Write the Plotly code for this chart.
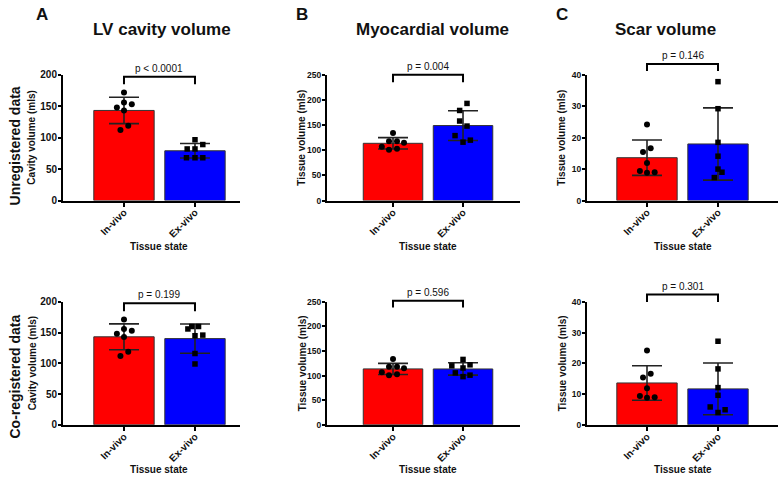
import numpy as np
import plotly.graph_objects as go

# ---------------- data ----------------
categories = ["In-vivo", "Ex-vivo"]

lv_invivo = [171.6, 148, 156, 153, 143, 112, 119]
lv_exvivo_unreg = [96.6, 82, 82, 89, 68, 68, 68]
lv_exvivo_coreg = [156, 160, 160, 145, 146, 116, 99]

myo_invivo = [134, 118, 118, 115, 107, 101, 103]
myo_exvivo_unreg = [193, 179, 158, 148, 129, 116, 120]
myo_exvivo_coreg = [133, 120, 122, 115.6, 105.6, 98, 101]

scar_invivo = [24.2, 15.4, 16.6, 11.9, 9.4, 8.8, 9.0]
scar_exvivo_unreg = [37.8, 29.2, 18.5, 14.1, 10.0, 9.0, 7.3]
scar_exvivo_coreg = [27.2, 18.2, 12.1, 9.6, 5.8, 4.0, 4.9]

p_labels = ["p < 0.0001", "p = 0.004", "p = 0.146",
            "p = 0.199", "p = 0.596", "p = 0.301"]

panel_titles = ["LV cavity volume", "Myocardial volume", "Scar volume"]
panel_letters = ["A", "B", "C"]
row_labels = ["Unregistered data", "Co-registered data"]
y_titles = ["Cavity volume (mls)", "Tissue volume (mls)", "Tissue volume (mls)"]
y_ticks = [[0, 50, 100, 150, 200], [0, 50, 100, 150, 200, 250], [0, 10, 20, 30, 40]]

# ---------------- layout / style constants ----------------
W, H = 778, 481
RED, BLUE = "#FF0000", "#0000FF"
FONT = "Liberation Sans, Arial, Helvetica, sans-serif"
YTICK_SIZE = [10, 8.5, 8.5]
YTITLE_SIZE = [10, 10, 10]

# horizontal spread of scatter points (category units)
JIT_IN_LV = [0, -0.10, 0, 0.11, 0, -0.05, 0.06]
JIT_IN_MYO = [0, -0.057, 0.057, 0.157, -0.16, -0.057, 0.057]
JIT_IN_SCAR = [0, -0.056, 0.052, 0, -0.10, 0, 0.108]
jitter = {
    (0, 0): (JIT_IN_LV, [0, -0.11, 0, 0.11, -0.12, 0, 0.11]),
    (0, 1): (JIT_IN_MYO, [0.057, -0.048, -0.048, 0.057, -0.114, 0, 0.105]),
    (0, 2): (JIT_IN_SCAR, [0, 0, 0, 0, 0, 0.056, -0.052]),
    (1, 0): (JIT_IN_LV, [-0.1, -0.045, 0.05, 0, 0.11, 0, 0]),
    (1, 1): (JIT_IN_MYO, [0, -0.16, 0.10, 0, -0.11, 0, 0.10]),
    (1, 2): (JIT_IN_SCAR, [0, 0, 0, 0, -0.11, 0, 0.10]),
}
data = {
    (0, 0): (lv_invivo, lv_exvivo_unreg),
    (0, 1): (myo_invivo, myo_exvivo_unreg),
    (0, 2): (scar_invivo, scar_exvivo_unreg),
    (1, 0): (lv_invivo, lv_exvivo_coreg),
    (1, 1): (myo_invivo, myo_exvivo_coreg),
    (1, 2): (scar_invivo, scar_exvivo_coreg),
}

# pixel geometry
col_px = [(63, 240), (327, 520), (587, 778)]          # x-axis extents
col_ranges = [(-0.859, 1.634), (-0.943, 1.814), (-0.845, 1.845)]
row_px = [(199.5, 70.5), (429.5, 303.5)]               # (y=0, y=max) pixel rows
ytitle_px = [32, 302, 562]
# bracket (top, leg bottom) as y-domain fraction
brackets = {
    (0, 0): (0.985, 0.925), (0, 1): (1.0, 0.94), (0, 2): (1.085, 1.03),
    (1, 0): (0.99, 0.925), (1, 1): (1.01, 0.955), (1, 2): (1.06, 1.0),
}

def px2x(px):
    return px / W

def px2y(py):
    return 1 - py / H

fig = go.Figure()
layout = dict(
    width=W, height=H, margin=dict(l=0, r=0, t=0, b=0),
    paper_bgcolor="white", plot_bgcolor="white", showlegend=False,
    font=dict(family=FONT, color="#111"),
)
annotations = []
shapes = []

idx = 0
for r in range(2):
    for c in range(3):
        idx += 1
        xa = "x" if idx == 1 else f"x{idx}"
        ya = "y" if idx == 1 else f"y{idx}"
        xkey = "xaxis" if idx == 1 else f"xaxis{idx}"
        ykey = "yaxis" if idx == 1 else f"yaxis{idx}"
        vin, vex = data[(r, c)]
        jin, jex = jitter[(r, c)]
        means = [float(np.mean(vin)), float(np.mean(vex))]
        sds = [float(np.std(vin, ddof=1)), float(np.std(vex, ddof=1))]

        fig.add_trace(go.Bar(
            x=[0, 1], y=means, width=0.85,
            marker=dict(color=[RED, BLUE], line=dict(color="#333", width=1)),
            error_y=dict(type="data", array=sds, visible=True,
                         color="#222", thickness=1.6, width=15),
            xaxis=xa, yaxis=ya, hoverinfo="skip",
        ))
        fig.add_trace(go.Scatter(
            x=[0 + j for j in jin], y=vin, mode="markers",
            marker=dict(symbol="circle", size=6, color="black"),
            xaxis=xa, yaxis=ya, cliponaxis=False, hoverinfo="skip",
        ))
        fig.add_trace(go.Scatter(
            x=[1 + j for j in jex], y=vex, mode="markers",
            marker=dict(symbol="square", size=5.5, color="black"),
            xaxis=xa, yaxis=ya, cliponaxis=False, hoverinfo="skip",
        ))

        x0p, x1p = col_px[c]
        y0p, y1p = row_px[r]
        ticks = y_ticks[c]
        layout[xkey] = dict(
            domain=[px2x(x0p), px2x(x1p)], range=list(col_ranges[c]),
            anchor=ya, tickmode="array", tickvals=[0, 1], ticktext=categories,
            tickangle=-45, showline=True, linecolor="black", linewidth=2,
            ticks="outside", ticklen=4, tickwidth=2, tickcolor="black",
            ticklabelstandoff=-4,
            showgrid=False, zeroline=False,
            tickfont=dict(family=FONT, size=10, color="#111", weight="bold"),
        )
        layout[ykey] = dict(
            domain=[px2y(y0p), px2y(y1p)], range=[0, ticks[-1]],
            anchor=xa, tickmode="array", tickvals=ticks,
            showline=True, linecolor="black", linewidth=2,
            ticks="outside", ticklen=3, tickwidth=2, tickcolor="black",
            ticklabelstandoff=-1,
            showgrid=False, zeroline=False,
            tickfont=dict(family=FONT, size=YTICK_SIZE[c], color="#111", weight="bold"),
        )

        # significance bracket
        lo, hi = col_ranges[c]
        fx0 = (0 - lo) / (hi - lo)
        fx1 = (1 - lo) / (hi - lo)
        bt, bl = brackets[(r, c)]
        shapes.append(dict(
            type="path", xref=f"{xa} domain", yref=f"{ya} domain",
            path=f"M {fx0},{bl} L {fx0},{bt} L {fx1},{bt} L {fx1},{bl}",
            line=dict(color="black", width=2),
        ))
        annotations.append(dict(
            text=p_labels[idx - 1], xref=f"{xa} domain", yref=f"{ya} domain",
            x=(fx0 + fx1) / 2, y=bt, xanchor="center", yanchor="bottom",
            yshift=1, showarrow=False,
            font=dict(family=FONT, size=10, color="#111"),
        ))

        # y-axis title
        annotations.append(dict(
            text=y_titles[c], xref="paper", yref="paper",
            x=px2x(ytitle_px[c]), y=px2y((y0p + y1p) / 2), textangle=-90,
            xanchor="center", yanchor="middle", showarrow=False,
            font=dict(family=FONT, size=YTITLE_SIZE[c], color="#111", weight="bold"),
        ))
        # x-axis title
        xt_px = x0p + (0.5 - lo) / (hi - lo) * (x1p - x0p)
        annotations.append(dict(
            text="Tissue state", xref="paper", yref="paper",
            x=px2x(xt_px), y=px2y(247 if r == 0 else 475),
            xanchor="center", yanchor="middle", showarrow=False,
            font=dict(family=FONT, size=10, color="#111", weight="bold"),
        ))

# panel titles and letters
title_px = [162, 432, 665]
letter_px = [42, 302, 562]
for c in range(3):
    annotations.append(dict(
        text=panel_titles[c], xref="paper", yref="paper",
        x=px2x(title_px[c]), y=px2y(24), xanchor="center", yanchor="middle",
        showarrow=False, font=dict(family=FONT, size=17, color="#111", weight="bold"),
    ))
    annotations.append(dict(
        text=panel_letters[c], xref="paper", yref="paper",
        x=px2x(letter_px[c]), y=px2y(9), xanchor="center", yanchor="middle",
        showarrow=False, font=dict(family=FONT, size=17, color="#111", weight="bold"),
    ))

# row labels
for r, ypx in enumerate([144, 380]):
    annotations.append(dict(
        text=row_labels[r], xref="paper", yref="paper",
        x=px2x(15), y=px2y(ypx), textangle=-90,
        xanchor="center", yanchor="middle", showarrow=False,
        font=dict(family=FONT, size=14, color="#111", weight="bold"),
    ))

layout["annotations"] = annotations
layout["shapes"] = shapes
fig.update_layout(**layout)
fig.write_html(
    "out.html",
    config={"displayModeBar": False},
    post_script="document.body.style.margin='0';document.body.style.overflow='hidden';",
)
